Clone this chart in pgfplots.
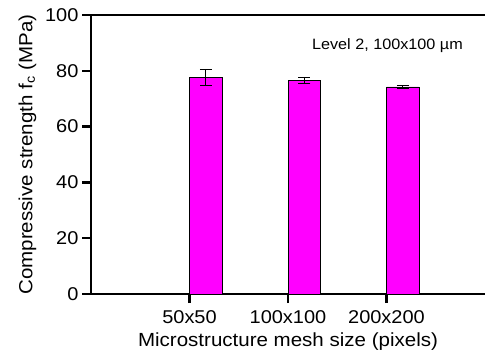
\documentclass[border=0pt]{standalone}
\usepackage{pgfplots}
\pgfplotsset{compat=1.18}
\usepackage{fontspec}
\setmainfont[FakeStretch=1.08]{Liberation Sans}
\definecolor{barmag}{RGB}{255,0,255}

\begin{document}
\begin{tikzpicture}
\begin{axis}[
  scale only axis,
  width=394pt, height=279pt,
  xmin=0, xmax=4,
  ymin=0, ymax=100,
  axis lines=left,
  axis line style={-, line width=2pt},
  xtick={1,2,3},
  xticklabels={50x50,100x100,200x200},
  ytick={0,20,40,60,80,100},
  tick align=outside,
  major tick length=9pt,
  tick style={line width=2.5pt, black},
  ticklabel style={font=\fontsize{18.5}{20}\selectfont},
  xticklabel style={yshift=-4pt},
  /pgf/number format/assume math mode=true,
  xlabel={Microstructure mesh size (pixels)},
  ylabel={Compressive strength f\textsubscript{c} (MPa)},
  label style={font=\fontsize{19}{21}\selectfont},
  xlabel style={yshift=-2pt},
  ylabel style={yshift=2pt},
  clip=false,
]
% mean strength with standard deviation; each bar sits just right of its tick
\addplot[
  ybar, bar width=0.33, bar shift=0pt,
  fill=barmag, draw=black, line width=0.8pt,
  error bars/.cd, y dir=both, y explicit,
  error bar style={line width=0.8pt, black},
  error mark options={rotate=90, mark size=6pt, line width=0.8pt, black},
] coordinates {
  (1.165,77.7) +- (0,2.8)
  (2.165,76.6) +- (0,1.2)
  (3.165,74.2) +- (0,0.6)
};
\draw[line width=2pt] (rel axis cs:0,1) -- (rel axis cs:1,1);
\node[font=\fontsize{15}{17}\selectfont, anchor=base] at (axis cs:3.01,87.8) {Level 2, 100x100 µm};
\coordinate (ll) at (rel axis cs:0,0);
\coordinate (ur) at (rel axis cs:1,1);
\end{axis}
\pgfresetboundingbox
\path[use as bounding box] ([xshift=-91pt,yshift=-67pt]ll) rectangle ([yshift=15pt]ur);
\end{tikzpicture}
\end{document}
